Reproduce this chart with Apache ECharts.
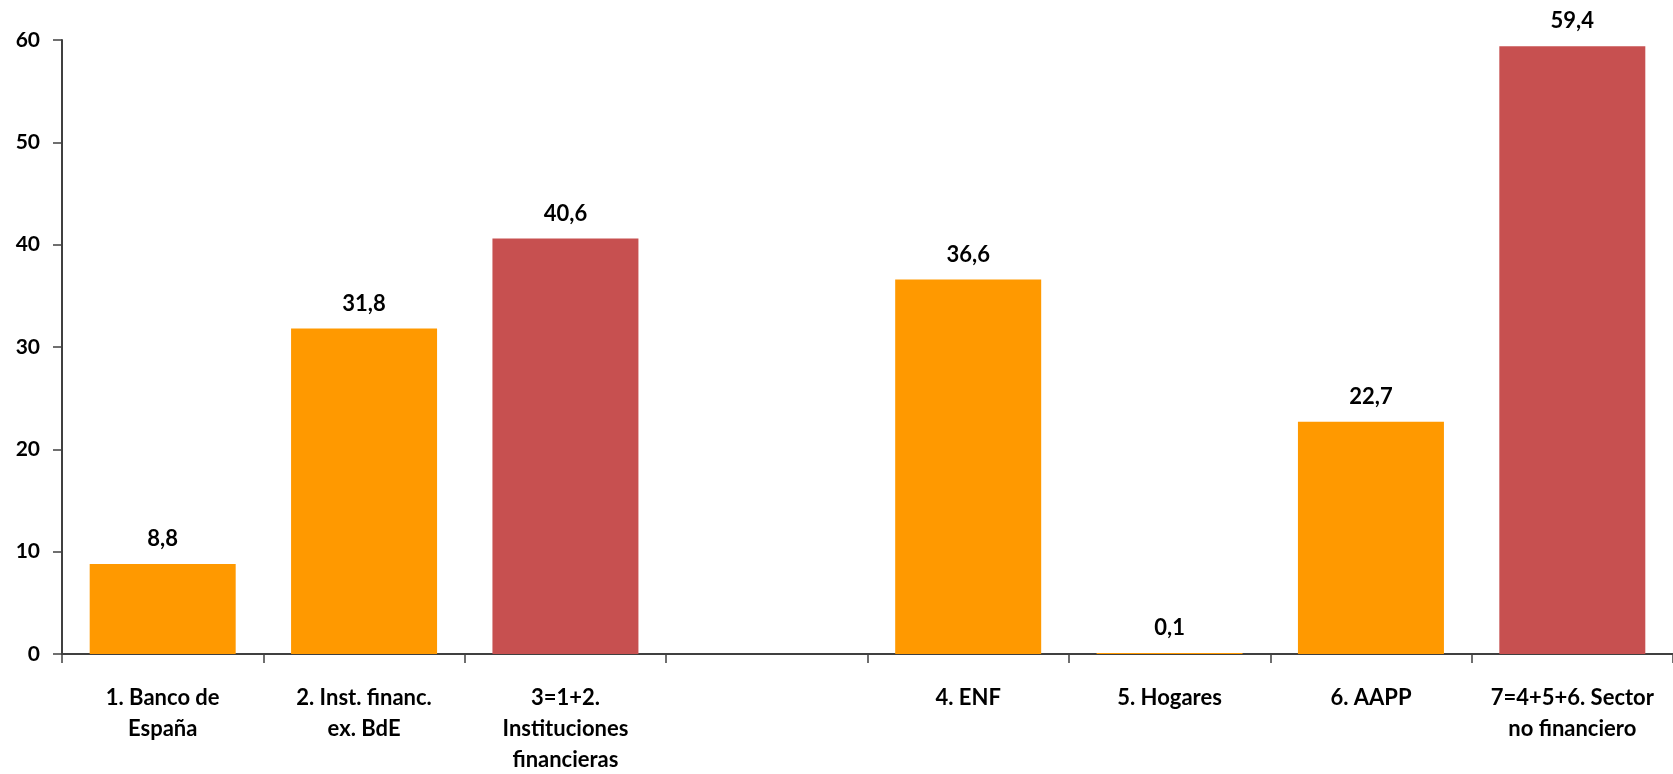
<!DOCTYPE html>
<html><head><meta charset="utf-8">
<script src="https://cdn.jsdelivr.net/npm/echarts@6/dist/echarts.min.js"></script>
<style>html,body{margin:0;padding:0;background:#fff}#c{width:1673px;height:774px}</style>
</head><body><div id="c"></div>
<script>
const categories = ['1. Banco de\nEspaña', '2. Inst. financ.\nex. BdE', '3=1+2.\nInstituciones\nfinancieras', '', '4. ENF', '5. Hogares', '6. AAPP', '7=4+5+6. Sector\nno financiero'];
const values = [8.8, 31.8, 40.6, null, 36.6, 0.1, 22.7, 59.4];
const isTotal = [false, false, true, false, false, false, false, true];
const yTicks = [0, 10, 20, 30, 40, 50, 60];
const ORANGE = '#FF9900', RED = '#C75050';
const FONT = 'Lato';
const chart = echarts.init(document.getElementById('c'), null, {renderer: 'canvas'});
chart.setOption({
  animation: false,
  grid: {left: 62, right: 0, top: 40, bottom: 120, containLabel: false, outerBoundsMode: 'none'},
  xAxis: {
    type: 'category', data: categories,
    axisLine: {lineStyle: {color: '#404040', width: 2}},
    axisTick: {show: true, length: 9, lineStyle: {color: '#404040', width: 1.5}},
    axisLabel: {color: '#000', fontFamily: FONT, fontWeight: 'bold', fontSize: 22, lineHeight: 31, margin: 28, interval: 0}
  },
  yAxis: {
    type: 'value', min: yTicks[0], max: yTicks[yTicks.length - 1], interval: 10,
    axisLine: {show: true, lineStyle: {color: '#404040', width: 2}},
    axisTick: {show: true, length: 9, lineStyle: {color: '#404040', width: 1.5}},
    splitLine: {show: false},
    axisLabel: {color: '#000', fontFamily: FONT, fontWeight: 'bold', fontSize: 21, margin: 22}
  },
  series: [{
    type: 'bar', barWidth: '72.5%',
    data: values.map((v, i) => ({value: v, itemStyle: {color: isTotal[i] ? RED : ORANGE}})),
    label: {show: true, position: 'top', distance: 14, color: '#000', fontFamily: FONT, fontWeight: 'bold', fontSize: 22,
      formatter: p => p.value == null ? '' : p.value.toFixed(1).replace('.', ',')}
  }]
});
</script></body></html>
